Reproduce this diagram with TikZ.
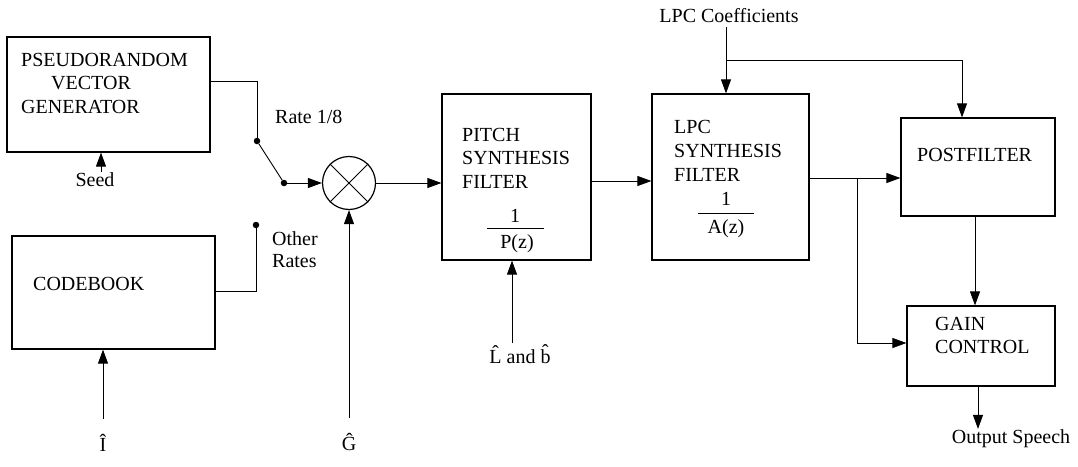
\documentclass[tikz,border=0pt]{standalone}
\usepackage{fontspec}
\setmainfont{Liberation Serif}
\usetikzlibrary{arrows.meta}
\begin{document}
\begin{tikzpicture}[x=1pt,y=-1pt,
  font=\fontsize{20}{24}\selectfont,
  box/.style={draw, line width=1.2pt, inner sep=0pt},
  ln/.style={line width=0.9pt},
  arr/.style={line width=0.9pt, -{Triangle[length=14pt,width=10pt]}},
  dotn/.style={circle, fill, inner sep=0pt, minimum size=6.5pt},
  lbl/.style={anchor=base west, inner sep=0pt},
  clbl/.style={anchor=base, inner sep=0pt}]
\fill[white] (0,0) rectangle (1078,466);
\useasboundingbox (0,0) rectangle (1078,466);

% ---- boxes ----
\node[box, minimum width=203pt, minimum height=115pt] (prg) at (108.5,94.5) {};
\node[box, minimum width=203pt, minimum height=113pt] (cb) at (113.5,292.5) {};
\node[box, minimum width=149pt, minimum height=166pt] (pit) at (516.5,177) {};
\node[box, minimum width=157pt, minimum height=166pt] (lpc) at (730.5,177) {};
\node[box, minimum width=154pt, minimum height=98pt] (post) at (978,167) {};
\node[box, minimum width=148pt, minimum height=80pt] (gain) at (981,346) {};
\node[draw, circle, line width=1.2pt, minimum size=53pt, inner sep=0pt] (mul) at (349,183) {};
\draw[ln] (mul.north west) -- (mul.south east);
\draw[ln] (mul.north east) -- (mul.south west);

% ---- box texts ----
\node[lbl] (t1) at (21,66) {PSEUDORANDOM};
\node[lbl] (t2) at (51,89) {VECTOR};
\node[lbl] (t3) at (21,113) {GENERATOR};
\node[lbl] (t4) at (33,290) {CODEBOOK};
\node[lbl] (t5) at (462,141) {PITCH};
\node[lbl] (t6) at (462,164) {SYNTHESIS};
\node[lbl] (t7) at (462,188) {FILTER};
\node[clbl] (p1) at (515,222) {1};
\draw[line width=1pt] (487,228) -- (544,228);
\node[clbl] (p2) at (517,248) {P(z)};
\node[lbl] (t8) at (674,133) {LPC};
\node[lbl] (t9) at (674,157) {SYNTHESIS};
\node[lbl] (t10) at (674,181) {FILTER};
\node[clbl] (a1) at (726,205) {1};
\draw[line width=1pt] (698,213) -- (754,213);
\node[clbl] (a2) at (726,233) {A(z)};
\node[lbl] (t11) at (917,161) {POSTFILTER};
\node[lbl] (t12) at (935,330) {GAIN};
\node[lbl] (t13) at (935,353) {CONTROL};

% ---- outside labels ----
\node[clbl] (seed) at (95,186) {Seed};
\node[lbl] (rate) at (275,123) {Rate 1/8};
\node[lbl] (oth1) at (272,245) {Other};
\node[lbl] (oth2) at (272,267) {Rates};
\node[clbl] (ihat) at (103,451) {\^I};
\node[clbl] (ghat) at (349,450) {\^G};
\node[clbl] (lb) at (520,363) {\^L and \^b};
\node[clbl] (coef) at (729,22) {LPC Coefficients};
\node[clbl] (outs) at (1011,443) {Output Speech};

% ---- switch ----
\node[dotn] (d1) at (257,141) {};
\node[dotn] (d2) at (284,183) {};
\node[dotn] (d3) at (256,225) {};
\coordinate (b1) at (257,81);
\coordinate (b2) at (256,291);
\draw[ln] (b1 -| prg.east) -- (b1) -- (d1);
\draw[ln] (d1) -- (d2);
\draw[ln] (b2 -| cb.east) -- (b2) -- (d3);
\draw[arr] (d2) -- (mul);

% ---- inputs ----
\draw[arr] ([xshift=6pt]seed.north) -- ([xshift=6pt]seed.north |- prg.south);
\coordinate (ib) at (103,419);
\draw[arr] (ib) -- (ib |- cb.south);
\coordinate (gb) at (349,418);
\draw[arr] (gb) -- (mul.south);
\coordinate (lbb) at (512,343);
\draw[arr] (lbb) -- (lbb |- pit.south);

% ---- main path ----
\draw[arr] (mul.east) -- (mul.east -| pit.west);
\coordinate (pl) at (591,181);
\draw[arr] (pl) -- (pl -| lpc.west);
\coordinate (lo) at (809,178);
\coordinate (br) at (857,178);
\draw[arr] (lo) -- (lo -| post.west);
\coordinate (gl) at (857,343);
\draw[arr] (br) -- (gl) -- (gl -| gain.west);
\coordinate (pg) at (975,216);
\draw[arr] (pg) -- (pg |- gain.north);
\coordinate (go) at (978,386);
\draw[arr] (go) -- (go |- outs.north);

% ---- LPC coefficients ----
\coordinate (ct) at (726,27);
\coordinate (cj) at (726,60);
\coordinate (cr) at (962,60);
\draw[arr] (ct) -- (ct |- lpc.north);
\draw[arr] (cj) -- (cr) -- (cr |- post.north);
\end{tikzpicture}
\end{document}
